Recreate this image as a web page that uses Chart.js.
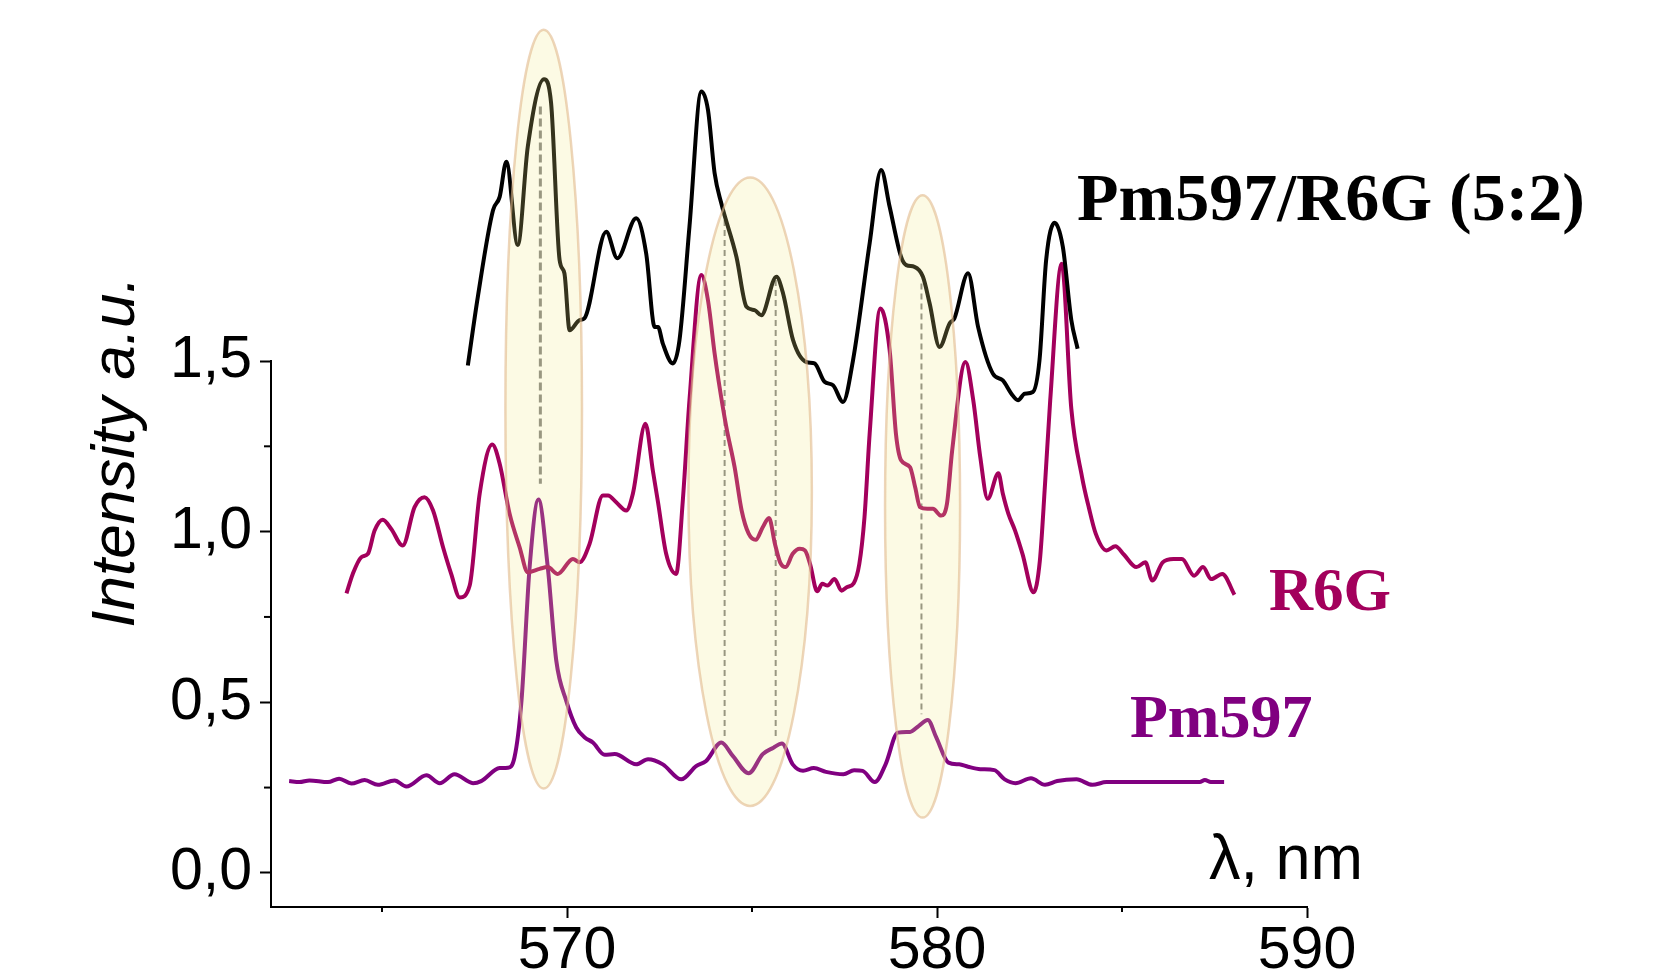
<!DOCTYPE html>
<html>
<head>
<meta charset="utf-8">
<title>Pm597 / R6G spectra</title>
<script src="https://cdn.jsdelivr.net/npm/chart.js@4/dist/chart.umd.min.js"></script>
<style>
  html, body { margin: 0; padding: 0; background: #fff; }
  canvas { display: block; }
</style>
</head>
<body>
<canvas id="chart" width="1669" height="976"></canvas>
<script>
// Pm597/R6G (5:2) mixture
const mixLambda = [567.32, 567.59, 568.00, 568.18, 568.36, 568.67, 568.94, 569.38, 569.57, 569.80,
  569.93, 570.07, 570.34, 570.47, 571.06, 571.36, 571.87, 572.14, 572.37, 572.46,
  572.59, 572.86, 573.04, 573.31, 573.63, 573.81, 573.99, 574.17, 574.58, 574.85,
  575.07, 575.25, 575.66, 575.84, 576.11, 576.47, 576.69, 576.96, 577.19, 577.46,
  577.73, 578.18, 578.49, 578.72, 579.03, 579.17, 579.39, 579.62, 579.80, 580.07,
  580.34, 580.47, 580.84, 581.11, 581.51, 581.78, 582.01, 582.19, 582.37, 582.59,
  582.77, 582.95, 583.18, 583.40, 583.63, 583.80];
const mixIntensity = [1.487, 1.688, 1.942, 1.981, 2.084, 1.840, 2.128, 2.326, 2.256, 1.796,
  1.757, 1.590, 1.620, 1.625, 1.879, 1.801, 1.918, 1.815, 1.600, 1.600,
  1.551, 1.493, 1.561, 1.894, 2.290, 2.236, 2.050, 1.962, 1.805, 1.659,
  1.649, 1.634, 1.747, 1.698, 1.561, 1.497, 1.493, 1.439, 1.429, 1.380,
  1.502, 1.845, 2.060, 1.952, 1.805, 1.781, 1.776, 1.747, 1.669, 1.541,
  1.610, 1.625, 1.757, 1.600, 1.463, 1.443, 1.404, 1.385, 1.404, 1.409,
  1.502, 1.796, 1.905, 1.835, 1.620, 1.536];

// R6G
const r6gLambda = [564.04, 564.21, 564.44, 564.62, 564.80, 565.02, 565.25, 565.56, 565.88, 566.15,
  566.38, 566.65, 566.87, 567.10, 567.37, 567.64, 567.98, 568.18, 568.45, 568.72,
  568.94, 569.26, 569.48, 569.75, 570.16, 570.34, 570.61, 570.97, 571.11, 571.33,
  571.60, 571.78, 572.12, 572.32, 572.46, 572.68, 572.95, 573.13, 573.31, 573.63,
  573.81, 573.99, 574.10, 574.30, 574.53, 574.72, 574.91, 575.10, 575.29, 575.46,
  575.62, 575.76, 575.91, 576.10, 576.29, 576.43, 576.57, 576.76, 576.90, 577.04,
  577.23, 577.42, 577.56, 577.75, 577.90, 578.04, 578.18, 578.47, 578.72, 578.89,
  579.03, 579.27, 579.41, 579.54, 579.74, 579.89, 580.11, 580.27, 580.41, 580.77,
  580.98, 581.17, 581.37, 581.66, 581.78, 581.93, 582.11, 582.31, 582.61, 582.78,
  582.92, 583.06, 583.37, 583.63, 583.92, 584.10, 584.29, 584.58, 584.82, 585.05,
  585.39, 585.63, 585.82, 586.10, 586.39, 586.62, 586.95, 587.19, 587.41, 587.71,
  588.04];
const r6gIntensity = [0.819, 0.876, 0.925, 0.935, 1.003, 1.035, 1.008, 0.959, 1.072, 1.101,
  1.062, 0.954, 0.876, 0.807, 0.842, 1.111, 1.255, 1.199, 1.052, 0.954,
  0.881, 0.891, 0.896, 0.876, 0.920, 0.910, 0.964, 1.106, 1.106, 1.086,
  1.062, 1.111, 1.316, 1.179, 1.086, 0.935, 0.876, 1.091, 1.385, 1.752,
  1.678, 1.522, 1.440, 1.310, 1.189, 1.062, 0.994, 0.976, 1.013, 1.040,
  0.964, 0.910, 0.896, 0.935, 0.950, 0.945, 0.905, 0.825, 0.847, 0.842,
  0.861, 0.827, 0.837, 0.849, 0.905, 1.042, 1.287, 1.654, 1.532, 1.287,
  1.209, 1.189, 1.130, 1.072, 1.067, 1.067, 1.047, 1.082, 1.238, 1.497,
  1.385, 1.218, 1.096, 1.171, 1.111, 1.052, 1.003, 0.935, 0.822, 0.915,
  1.140, 1.385, 1.785, 1.360, 1.160, 1.072, 0.994, 0.945, 0.957, 0.933,
  0.896, 0.910, 0.857, 0.910, 0.920, 0.920, 0.871, 0.896, 0.861, 0.876,
  0.815];

// Pm597
const pmLambda = [562.49, 562.77, 563.04, 563.54, 563.84, 564.17, 564.53, 564.89, 565.34, 565.66,
  566.20, 566.56, 566.96, 567.46, 567.68, 568.18, 568.40, 568.58, 568.77, 568.99,
  569.23, 569.48, 569.71, 569.98, 570.25, 570.48, 570.70, 571.02, 571.29, 571.87,
  572.19, 572.59, 573.09, 573.49, 573.76, 574.17, 574.48, 574.91, 575.29, 575.58,
  575.81, 576.10, 576.38, 576.67, 577.00, 577.47, 577.76, 577.99, 578.32, 578.61,
  578.94, 579.27, 579.51, 579.75, 579.98, 580.31, 580.60, 580.84, 581.17, 581.55,
  581.83, 582.12, 582.54, 582.92, 583.25, 583.77, 584.20, 584.58, 587.10, 587.24,
  587.40, 587.76];
const pmIntensity = [0.269, 0.266, 0.271, 0.266, 0.276, 0.262, 0.272, 0.258, 0.271, 0.253,
  0.286, 0.263, 0.289, 0.263, 0.269, 0.307, 0.308, 0.338, 0.504, 0.896,
  1.094, 0.896, 0.622, 0.504, 0.426, 0.397, 0.382, 0.346, 0.348, 0.318,
  0.333, 0.318, 0.274, 0.313, 0.328, 0.382, 0.343, 0.292, 0.348, 0.367,
  0.379, 0.318, 0.299, 0.307, 0.296, 0.289, 0.301, 0.299, 0.266, 0.318,
  0.411, 0.413, 0.431, 0.448, 0.397, 0.323, 0.318, 0.311, 0.304, 0.301,
  0.274, 0.263, 0.277, 0.258, 0.269, 0.274, 0.258, 0.266, 0.266, 0.272,
  0.266, 0.266];

// highlighted bands (centre and half-width in nm / intensity)
const bandCenterX = [569.37, 574.95, 579.61];
const bandCenterY = [1.359, 1.117, 1.074];
const bandRadiusX = [1.035, 1.668, 1.014];
const bandRadiusY = [1.112, 0.921, 0.912];

// dashed guide lines
const guideX = [569.28, 574.26, 575.64, 579.58];
const guideTop = [2.246, 1.913, 1.737, 1.727];
const guideBottom = [1.140, 0.397, 0.397, 0.465];

const xTicks = [570, 580, 590];
const xMinorTicks = [565, 575, 585];
const yTicks = [0, 0.5, 1.0, 1.5];
const yMinorTicks = [0.25, 0.75, 1.25];

const toPoints = (xs, ys) => xs.map((x, i) => ({ x: x, y: ys[i] }));

const lineStyle = {
  fill: false,
  pointRadius: 0,
  borderWidth: 4,
  cubicInterpolationMode: 'monotone',
  clip: false
};

const guideSets = guideX.map((x, i) => ({
  data: [{ x: x, y: guideTop[i] }, { x: x, y: guideBottom[i] }],
  borderColor: '#808080',
  borderWidth: i === 0 ? 3 : 2,
  borderDash: i === 0 ? [8, 4] : [6, 4],
  pointRadius: 0,
  fill: false,
  clip: false,
  order: 5
}));

// ellipses, minor ticks and text labels
const extras = {
  id: 'extras',
  afterDatasetsDraw(chart) {
    const ctx = chart.ctx;
    const xs = chart.scales.x, ys = chart.scales.y;
    ctx.save();
    bandCenterX.forEach((cx, i) => {
      const px = xs.getPixelForValue(cx);
      const py = ys.getPixelForValue(bandCenterY[i]);
      const rx = Math.abs(xs.getPixelForValue(cx + bandRadiusX[i]) - px);
      const ry = Math.abs(ys.getPixelForValue(bandCenterY[i] + bandRadiusY[i]) - py);
      ctx.beginPath();
      ctx.ellipse(px, py, rx, ry, 0, 0, Math.PI * 2);
      ctx.fillStyle = 'rgba(240, 230, 130, 0.22)';
      ctx.fill();
      ctx.lineWidth = 2.5;
      ctx.strokeStyle = 'rgba(225, 185, 140, 0.6)';
      ctx.stroke();
    });
    ctx.restore();
  },
  afterDraw(chart) {
    const ctx = chart.ctx;
    const xs = chart.scales.x, ys = chart.scales.y;
    const area = chart.chartArea;
    ctx.save();
    ctx.strokeStyle = '#000';
    ctx.lineWidth = 2;
    yMinorTicks.forEach(v => {
      const py = ys.getPixelForValue(v);
      ctx.beginPath();
      ctx.moveTo(area.left - 7, py);
      ctx.lineTo(area.left, py);
      ctx.stroke();
    });
    xMinorTicks.forEach(v => {
      const px = xs.getPixelForValue(v);
      ctx.beginPath();
      ctx.moveTo(px, area.bottom);
      ctx.lineTo(px, area.bottom + 5);
      ctx.stroke();
    });

    ctx.textBaseline = 'alphabetic';
    ctx.textAlign = 'left';
    ctx.font = 'bold 68px "Liberation Serif", "Times New Roman", serif';
    ctx.fillStyle = '#000';
    ctx.fillText('Pm597/R6G (5:2)', 1077, 220);
    ctx.font = 'bold 61px "Liberation Serif", "Times New Roman", serif';
    ctx.fillStyle = '#a3005c';
    ctx.fillText('R6G', 1269, 610);
    ctx.font = 'bold 62px "Liberation Serif", "Times New Roman", serif';
    ctx.fillStyle = '#800080';
    ctx.fillText('Pm597', 1130, 737);

    ctx.fillStyle = '#000';
    ctx.font = '63px "Liberation Sans", Arial, sans-serif';
    ctx.fillText('λ, nm', 1209, 879);

    ctx.translate(134, 452);
    ctx.rotate(-Math.PI / 2);
    ctx.textAlign = 'center';
    ctx.font = 'italic 62px "Liberation Sans", Arial, sans-serif';
    ctx.fillText('Intensity a.u.', 0, 0);
    ctx.restore();
  }
};

const tickFont = { family: '"Liberation Sans", Arial, sans-serif', size: 59, lineHeight: 1 };

new Chart(document.getElementById('chart').getContext('2d'), {
  type: 'line',
  data: {
    datasets: [
      Object.assign({ data: toPoints(mixLambda, mixIntensity), borderColor: '#000000', order: 1 }, lineStyle),
      Object.assign({ data: toPoints(r6gLambda, r6gIntensity), borderColor: '#a3005c', order: 2 }, lineStyle),
      Object.assign({ data: toPoints(pmLambda, pmIntensity), borderColor: '#800080', order: 3 }, lineStyle),
      ...guideSets
    ]
  },
  options: {
    responsive: false,
    animation: false,
    devicePixelRatio: 1,
    layout: { padding: { left: 151, top: 361, right: 362, bottom: 0 } },
    plugins: { legend: { display: false }, tooltip: { enabled: false } },
    scales: {
      x: {
        type: 'linear',
        min: 562,
        max: 590,
        border: { display: true, color: '#000', width: 2 },
        grid: { display: true, drawOnChartArea: false, tickLength: 11, tickWidth: 2, tickColor: '#000' },
        ticks: { color: '#000', font: tickFont, padding: 4, maxRotation: 0, autoSkip: false },
        afterBuildTicks: s => { s.ticks = xTicks.map(v => ({ value: v })); },
        afterFit: s => { s.height = 69; }
      },
      y: {
        type: 'linear',
        min: -0.1,
        max: 1.5,
        border: { display: true, color: '#000', width: 2 },
        grid: { display: true, drawOnChartArea: false, tickLength: 11, tickWidth: 2, tickColor: '#000' },
        ticks: {
          color: '#000', font: tickFont, padding: 8,
          callback: v => v.toFixed(1).replace('.', ',')
        },
        afterBuildTicks: s => { s.ticks = yTicks.map(v => ({ value: v })); },
        afterFit: s => { s.width = 120; }
      }
    }
  },
  plugins: [extras]
});
</script>
</body>
</html>
